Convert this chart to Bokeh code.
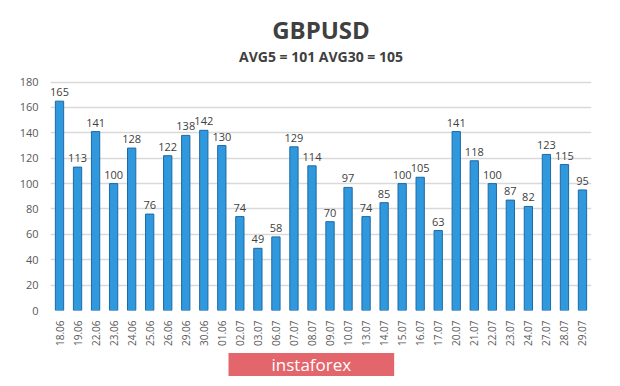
import math
from bokeh.plotting import figure
from bokeh.models import ColumnDataSource, Title, FactorRange, Label, Range1d
from bokeh.core.properties import value
from bokeh.embed import file_html
from bokeh.resources import INLINE

dates = ["18.06", "19.06", "22.06", "23.06", "24.06", "25.06", "26.06", "29.06", "30.06", "01.06",
         "02.07", "03.07", "06.07", "07.07", "08.07", "09.07", "10.07", "13.07", "14.07", "15.07",
         "16.07", "17.07", "20.07", "21.07", "22.07", "23.07", "24.07", "27.07", "28.07", "29.07"]
values = [165, 113, 141, 100, 128, 76, 122, 138, 142, 130,
          74, 49, 58, 129, 114, 70, 97, 74, 85, 100,
          105, 63, 141, 118, 100, 87, 82, 123, 115, 95]
y_ticks = [0, 20, 40, 60, 80, 100, 120, 140, 160, 180]
title_text = "GBPUSD"
subtitle_text = "AVG5 = 101 AVG30 = 105"
logo_text = "instaforex"

FONT = "Open Sans"
TXT = "#595959"

src = ColumnDataSource(dict(x=dates, top=values, lab=[str(v) for v in values]))

W, H = 612, 378
ML, MR = 50, 21
FRAME_BOTTOM = 311.5   # canvas px of value 0
GRID_TOP = 82          # canvas px of value 180
y_end = 180 * FRAME_BOTTOM / (FRAME_BOTTOM - GRID_TOP)

p = figure(width=W, height=H, x_range=FactorRange(*dates, range_padding=0),
           y_range=Range1d(0, y_end),
           output_backend="svg", toolbar_location=None, title=None,
           min_border_left=ML, min_border_right=MR, min_border_top=0, min_border_bottom=0)
p.background_fill_color = "white"
p.border_fill_color = "white"
p.outline_line_color = None

p.vbar(x="x", top="top", width=0.46, source=src, fill_color="#3098dd", line_color="#1c6aa6",
       line_width=1)
p.text(x="x", y="top", text="lab", source=src, text_align="center", text_baseline="bottom",
       y_offset=-5, text_font=value(FONT), text_font_size="11px", text_color="#404040")

p.yaxis.ticker = y_ticks
p.yaxis.axis_line_color = None
p.yaxis.major_tick_line_color = None
p.yaxis.minor_tick_line_color = None
p.yaxis.major_label_text_font = FONT
p.yaxis.major_label_text_font_size = "11px"
p.yaxis.major_label_text_color = TXT
p.yaxis.major_label_standoff = 6

p.xaxis.axis_line_color = None
p.xaxis.major_tick_line_color = None
p.xaxis.major_label_orientation = math.pi / 2
p.xaxis.major_label_text_font = FONT
p.xaxis.major_label_text_font_size = "10px"
p.xaxis.major_label_text_color = TXT
p.xaxis.major_label_standoff = 4

p.xgrid.grid_line_color = None
p.ygrid.grid_line_color = "#d9d9d9"
p.ygrid.grid_line_width = 1.5

fw = W - ML - MR
p.add_layout(Label(x=fw / 2, y=FRAME_BOTTOM - 30, x_units="screen", y_units="screen",
                   text=title_text, text_align="center", text_baseline="middle",
                   text_font=FONT, text_font_size="24px", text_font_style="bold",
                   text_color="#404040"))
p.add_layout(Label(x=fw / 2, y=FRAME_BOTTOM - 57.5, x_units="screen", y_units="screen",
                   text=subtitle_text, text_align="center", text_baseline="middle",
                   text_font=FONT, text_font_size="14px", text_font_style="bold",
                   text_color="#404040"))
p.add_layout(Title(text=logo_text, align="left", text_font=FONT, text_font_size="17px",
                   text_font_style="normal", text_color="white",
                   background_fill_color="#e2666b", standoff=5, offset=178,
                   padding=(43, 0)), "below")

open("out.html", "w").write(file_html(p, INLINE))
